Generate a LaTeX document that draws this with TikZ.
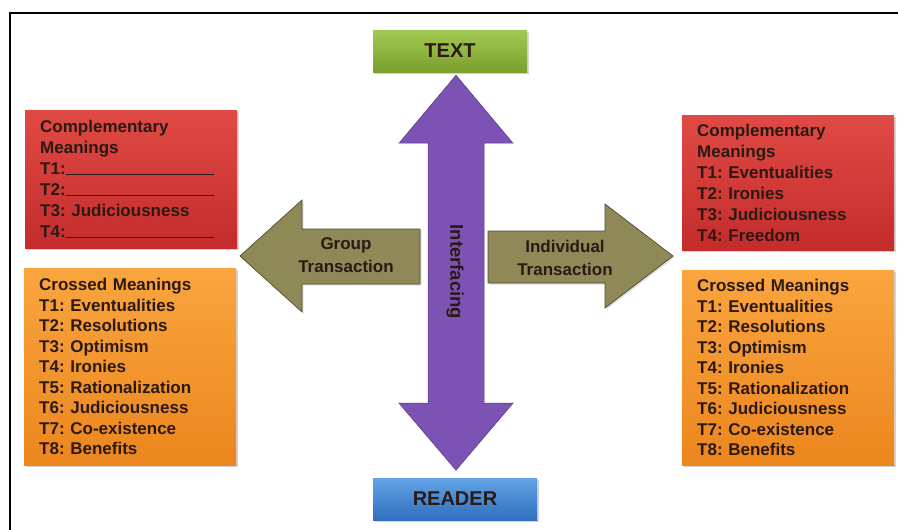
\documentclass[tikz,border=0pt]{standalone}
\usepackage{fontspec}
\setmainfont{Liberation Sans}
\usepackage{xcolor}
\usetikzlibrary{calc,positioning,shadows}
\definecolor{ink}{HTML}{2B1A14}
\definecolor{redtop}{HTML}{E04A44}
\definecolor{redbot}{HTML}{C42C2C}
\definecolor{orangetop}{HTML}{FAA53E}
\definecolor{orangebot}{HTML}{EC861E}
\definecolor{greentop}{HTML}{A2C952}
\definecolor{greenbot}{HTML}{7C9F2E}
\definecolor{bluetop}{HTML}{62A3E6}
\definecolor{bluebot}{HTML}{2F6FBE}
\definecolor{purple}{HTML}{7C52B4}
\definecolor{olive}{HTML}{8F8857}
\frenchspacing

\begin{document}
\begin{tikzpicture}[
  x=1pt,y=-1pt,
  lbl/.style={font=\fontsize{17}{20.5}\selectfont\bfseries,text=ink},
  box/.style={lbl,anchor=north west,align=left,inner xsep=15pt,inner ysep=0pt,
    text width=182pt,drop shadow={opacity=.35,shadow xshift=2pt,shadow yshift=-2pt}},
  compbox/.style={box,top color=redtop,bottom color=redbot},
  crossbox/.style={box,top color=orangetop,bottom color=orangebot},
  endbox/.style={font=\fontsize{20}{22}\selectfont\bfseries,text=ink,
    minimum height=42pt,inner sep=0pt,
    drop shadow={opacity=.35,shadow xshift=2pt,shadow yshift=-2pt}},
  bigarrow/.style={fill=purple,draw=purple!70!black,line width=.5pt},
  sidearrow/.style={fill=olive,draw=olive!55!black,line width=.7pt,
    drop shadow={opacity=.25,shadow xshift=1.5pt,shadow yshift=-1.5pt}}
]
\useasboundingbox (0,0) rectangle (898,530);
% frame
\draw[line width=2.5pt] (10,530) -- (10,13) -- (898,13);

% text and reader
\node[endbox,top color=greentop,bottom color=greenbot,minimum width=154pt]
  (text) at (450,51) {TEXT};
\node[endbox,top color=bluetop,bottom color=bluebot,minimum width=164pt]
  (reader) at (455,499) {READER};

% interfacing arrow
\filldraw[bigarrow] ($(text.south)+(6,3)$) -- ++(57,68) -- ++(-29,0) -- ++(0,260)
  -- ++(29,0) -- ++(-57,67) -- ++(-57,-67) -- ++(29,0) -- ++(0,-260)
  -- ++(-29,0) -- cycle;
\node[lbl,font=\fontsize{18.5}{20}\selectfont\bfseries,rotate=-90] (interf)
  at (455,272) {Interfacing};

% transaction arrows
\filldraw[sidearrow] (240,256) -- (302,200) -- (302,229) -- (420,229)
  -- (420,284) -- (302,284) -- (302,312) -- cycle;
\node[lbl,align=center,font=\fontsize{17}{23}\selectfont\bfseries] (group)
  at (346,255) {Group\\Transaction};
\filldraw[sidearrow] (673,256) -- (605,204) -- (605,231) -- (488,231)
  -- (488,283) -- (605,283) -- (605,308) -- cycle;
\node[lbl,align=center,font=\fontsize{17}{23}\selectfont\bfseries] (indiv)
  at (565,258) {Individual\\Transaction};

% meaning boxes
\node[compbox,minimum height=138pt,font=\fontsize{17}{21}\selectfont\bfseries]
  (lcomp) at (25,110)
  {Complementary\\Meanings\\T1:\rule{148pt}{1.3pt}\\T2:\rule{148pt}{1.3pt}\\
   T3: Judiciousness\\T4:\rule{148pt}{1.3pt}};
\node[crossbox,minimum height=197pt] (lcross) at (24,268)
  {Crossed Meanings\\T1: Eventualities\\T2: Resolutions\\T3: Optimism\\
   T4: Ironies\\T5: Rationalization\\T6: Judiciousness\\T7: Co-existence\\
   T8: Benefits};
\node[compbox,minimum height=135pt,font=\fontsize{17}{21}\selectfont\bfseries]
  (rcomp) at (682,115)
  {Complementary\\Meanings\\T1: Eventualities\\T2: Ironies\\
   T3: Judiciousness\\T4: Freedom};
\node[crossbox,minimum height=195pt] (rcross) at (682,270)
  {Crossed Meanings\\T1: Eventualities\\T2: Resolutions\\T3: Optimism\\
   T4: Ironies\\T5: Rationalization\\T6: Judiciousness\\T7: Co-existence\\
   T8: Benefits};
\end{tikzpicture}
\end{document}
